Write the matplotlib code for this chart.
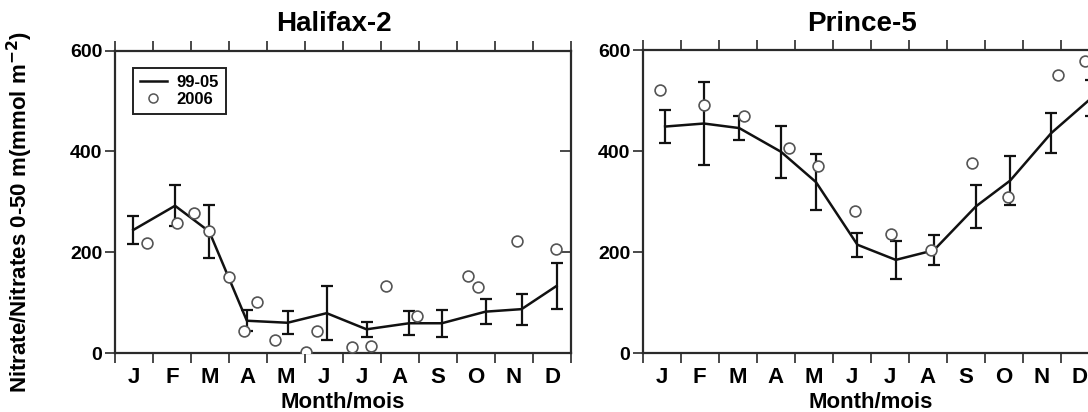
import matplotlib
matplotlib.use("Agg")
import matplotlib.pyplot as plt
from matplotlib.lines import Line2D

# ---- data ----
months = ["J", "F", "M", "A", "M", "J", "J", "A", "S", "O", "N", "D"]
yticks = [0, 200, 400, 600]

hfx_clim_x = [0.48, 1.58, 2.48, 3.47, 4.54, 5.57, 6.62, 7.74, 8.6, 9.75, 10.7, 11.62]
hfx_clim_y = [244, 292, 241, 64, 60, 79, 47, 59, 59, 82, 87, 133]
hfx_clim_err = [27, 41, 53, 21, 23, 53, 15, 24, 27, 25, 31, 46]
hfx_obs_x = [0.83, 1.62, 2.09, 2.48, 3.01, 3.4, 3.73, 4.22, 5.02, 5.31, 6.24, 6.74,
             7.12, 7.94, 9.28, 9.54, 10.57, 11.6]
hfx_obs_y = [218, 257, 278, 241, 151, 44, 102, 26, 1, 44, 11, 13,
             132, 74, 153, 130, 222, 206]

pr5_clim_x = [0.59, 1.61, 2.54, 3.64, 4.56, 5.65, 6.66, 7.66, 8.77, 9.67, 10.75, 11.8]
pr5_clim_y = [449, 455, 446, 399, 339, 215, 185, 204, 291, 342, 436, 505]
pr5_clim_err = [33, 83, 23, 51, 55, 24, 38, 30, 42, 48, 39, 36]
pr5_obs_x = [0.46, 1.61, 2.67, 3.85, 4.6, 5.58, 6.53, 7.58, 8.66, 9.6, 10.92, 11.64]
pr5_obs_y = [521, 491, 469, 407, 370, 282, 236, 205, 376, 310, 552, 579]

titles = ["Halifax-2", "Prince-5"]
xlabel = "Month/mois"
ylabel = "Nitrate/Nitrates 0-50 m(mmol m$^{\\mathbf{-2}}$)"
legend_labels = ["99-05", "2006"]

plt.rcParams["font.family"] = ["Liberation Sans", "DejaVu Sans"]
plt.rcParams["font.weight"] = "bold"
plt.rcParams["mathtext.default"] = "bf"

fig = plt.figure(figsize=(10.88, 4.12), dpi=100)
W, H = 1088, 412
ax1 = fig.add_axes([115 / W, 1 - 353 / H, 456 / W, 302.5 / H])
ax2 = fig.add_axes([642.7 / W, 1 - 353.3 / H, 456 / W, 303 / H])

spine_c = "#2a2a2a"
line_c = "#111111"
mk_edge = "#555555"
datasets = [
    (ax1, hfx_clim_x, hfx_clim_y, hfx_clim_err, hfx_obs_x, hfx_obs_y),
    (ax2, pr5_clim_x, pr5_clim_y, pr5_clim_err, pr5_obs_x, pr5_obs_y),
]
for i, (ax, cx, cy, ce, ox, oy) in enumerate(datasets):
    ax.errorbar(cx, cy, yerr=ce, color=line_c, lw=1.8, capsize=4,
                capthick=1.6, elinewidth=1.6, zorder=3)
    ax.plot(ox, oy, linestyle="none", marker="o", markersize=7.8,
            markerfacecolor="white", markeredgecolor=mk_edge,
            markeredgewidth=1.2, zorder=4)
    ax.set_xlim(0, 12)
    ax.set_ylim(0, 600)
    for s in ax.spines.values():
        s.set_linewidth(1.6)
        s.set_color(spine_c)
    ax.set_xticks(range(13))
    ax.set_xticklabels([])
    ax.set_xticks([m + 0.5 for m in range(12)], minor=True)
    ax.set_xticklabels(months, minor=True, fontsize=16, fontweight="bold")
    ax.tick_params(axis="x", which="major", direction="out", length=7,
                   width=1.2, top=True, bottom=True, color=spine_c)
    ax.tick_params(axis="x", which="minor", length=0, pad=10)
    ax.set_yticks(yticks)
    ax.set_yticklabels([str(v) for v in yticks], fontsize=14, fontweight="bold")
    ax.tick_params(axis="y", direction="out", length=7, width=1.2, pad=2,
                   color=spine_c)
    sec = ax.secondary_yaxis("right")
    sec.set_yticks([200, 400])
    sec.set_yticklabels([])
    sec.tick_params(direction="in", length=8, width=1.2, color=spine_c)
    sec.spines["right"].set_visible(False)
    ax.set_xlabel(xlabel, fontsize=16, fontweight="bold", labelpad=3)
    ax.set_title(titles[i], fontsize=20, fontweight="bold", pad=14, x=0.48)

handles = [
    Line2D([], [], color=line_c, lw=1.8),
    Line2D([], [], linestyle="none", marker="o", markersize=6.5,
           markerfacecolor="white", markeredgecolor=mk_edge, markeredgewidth=1.1),
]
leg = ax1.legend(handles, legend_labels, loc="upper left",
                 bbox_to_anchor=(0.04, 0.942), borderaxespad=0, fancybox=False,
                 framealpha=1, edgecolor="#222222", fontsize=12,
                 handlelength=1.6, handletextpad=0.6, borderpad=0.4,
                 labelspacing=0.15)
leg.get_frame().set_linewidth(1.4)
for t in leg.get_texts():
    t.set_fontweight("bold")

fig.text(20 / W, 1 - 212 / H, ylabel, rotation=90, ha="center", va="center",
         fontsize=16, fontweight="bold")

fig.savefig("out.png", dpi=100)
